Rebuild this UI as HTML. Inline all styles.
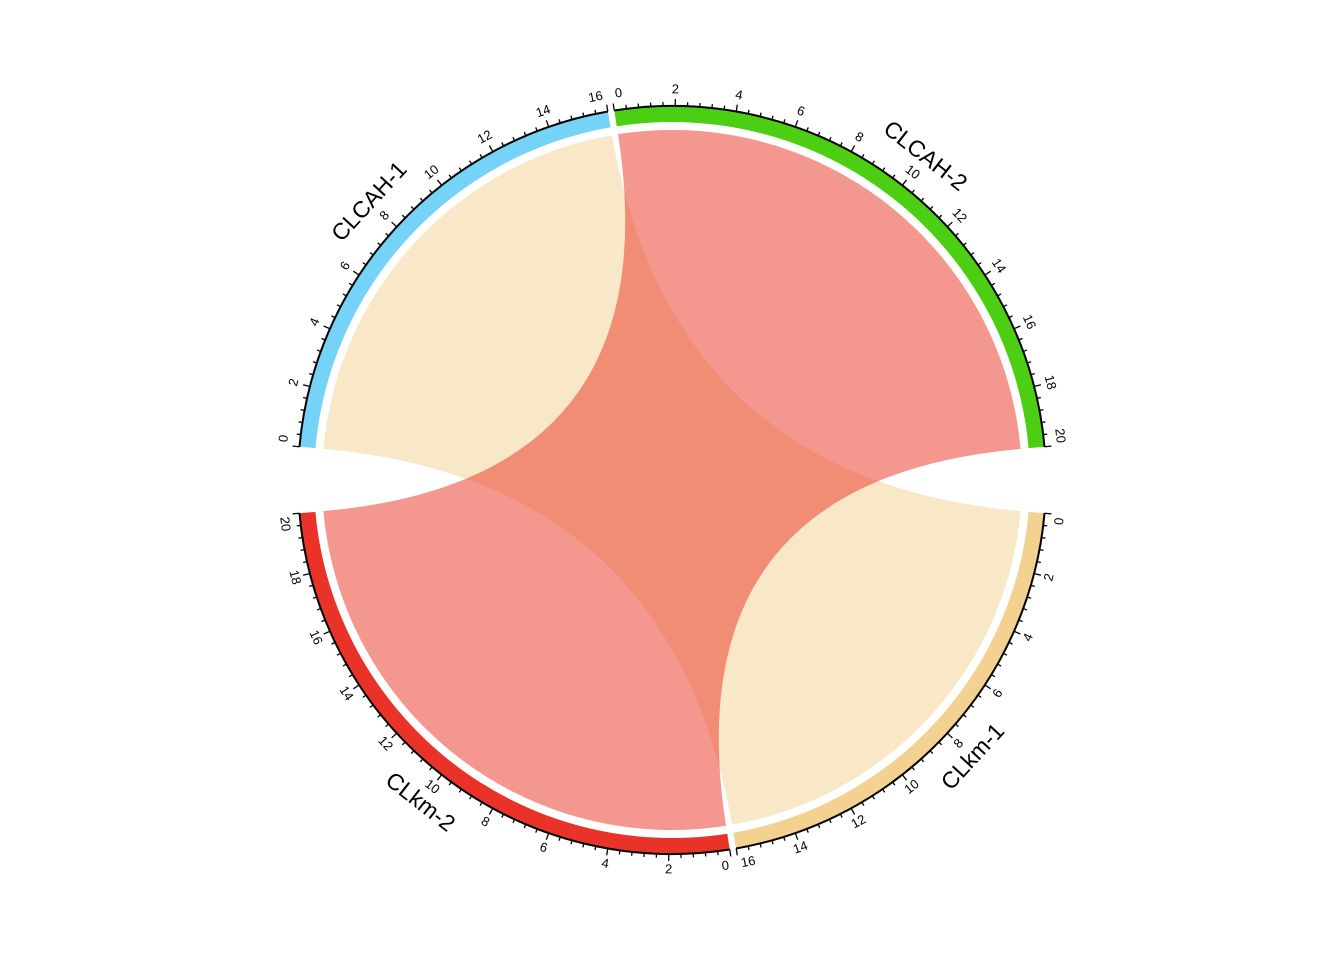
<!DOCTYPE html>
<html><head><meta charset="utf-8"><style>
html,body{margin:0;padding:0;background:#fff;}
svg{display:block;font-family:"Liberation Sans",Arial,sans-serif;}
</style></head><body>
<svg id="chart" width="1344" height="960" viewBox="0 0 1344 960" xmlns="http://www.w3.org/2000/svg">
<g id="chords"></g>
<g id="track"></g>
</svg>
<script>
const sectors = ["CLCAH-1","CLCAH-2","CLkm-1","CLkm-2"];
const sectorSizes = [16,20,16,20];
const sectorColors = ["#76D3F8","#4CCF12","#F2D191","#EA3328"];
const gapsAfter = [1,10.2,1,10.2];
const chordFrom = ["CLCAH-1","CLCAH-2"];
const chordTo = ["CLkm-1","CLkm-2"];
const chordValues = [16,20];
const chordColors = ["rgba(242,210,146,0.5)","rgba(234,55,40,0.52)"];

const NS="http://www.w3.org/2000/svg";
const cx=672, cy=480, rAxis=374, rIn=358, rChord=350;
const startDeg=174.9;
const totalUnits=sectorSizes.reduce((a,b)=>a+b,0);
const totalGap=gapsAfter.reduce((a,b)=>a+b,0);
const degPer=(360-totalGap)/totalUnits;
const starts=[]; let cur=startDeg;
sectors.forEach((s,i)=>{starts.push(cur); cur-=sectorSizes[i]*degPer+gapsAfter[i];});
function ang(si,v){return starts[si]-v*degPer;}
function pt(a,r){const t=a*Math.PI/180;return [cx+r*Math.cos(t),cy-r*Math.sin(t)];}
function arcPath(a1,a2,r){const p=pt(a2,r);const large=Math.abs(a1-a2)>180?1:0;return `A${r},${r} 0 ${large} 1 ${p[0]},${p[1]}`;}
function mk(tag,attrs,parent){const e=document.createElementNS(NS,tag);for(const k in attrs)e.setAttribute(k,attrs[k]);parent.appendChild(e);return e;}
function rot(a){let r=90-a;let n=((a%360)+360)%360;if(n>180)r+=180;return r;}

const track=document.getElementById('track');
sectors.forEach((s,i)=>{
  const a1=ang(i,0),a2=ang(i,sectorSizes[i]);
  const p1=pt(a1,rAxis),p2=pt(a2,rIn);
  const band=mk('path',{d:`M${p1[0]},${p1[1]} ${arcPath(a1,a2,rAxis)} L${p2[0]},${p2[1]} A${rIn},${rIn} 0 0 0 ${pt(a1,rIn)[0]},${pt(a1,rIn)[1]} Z`,fill:sectorColors[i]},track);
  
  
  const ax=mk('path',{d:`M${p1[0]},${p1[1]} ${arcPath(a1,a2,rAxis)}`,fill:'none',stroke:'#000','stroke-width':2},track);
  
  
  for(let k=0;k<=sectorSizes[i]*2.5;k++){
    const v=k*0.4, major=(k%5===0);
    const a=ang(i,v);
    const q1=pt(a,rAxis),q2=pt(a,rAxis+(major?7:4));
    const tk=mk('line',{x1:q1[0],y1:q1[1],x2:q2[0],y2:q2[1],stroke:'#000','stroke-width':1.3},track);
    
    
    if(major){
      const val=Math.round(v);
      let la=a;
      if(val===0) la=a-1.0;
      else if(val===sectorSizes[i]) la=a+(val>=10?1.4:1.0);
      const lp=pt(la,rAxis+16);
      const t=mk('text',{x:0,y:0,'font-size':13,'text-anchor':'middle','dominant-baseline':'middle',transform:`translate(${lp[0]},${lp[1]}) rotate(${rot(la)})`},track);
      t.textContent=String(val);
      
      
    }
  }
  const am=(a1+a2)/2, lp=pt(am,rAxis+36);
  const lab=mk('text',{x:0,y:0,'font-size':23,'text-anchor':'middle','dominant-baseline':'middle',transform:`translate(${lp[0]},${lp[1]}) rotate(${rot(am)})`},track);
  lab.textContent=s;
  
  
});

const chords=document.getElementById('chords');
chordFrom.forEach((f,i)=>{
  const si=sectors.indexOf(f), ti=sectors.indexOf(chordTo[i]);
  const A1=ang(si,0),A2=ang(si,chordValues[i]);
  const B1=ang(ti,0),B2=ang(ti,chordValues[i]);
  const pA1=pt(A1,rChord),pB1=pt(B1,rChord);
  const d=`M${pA1[0]},${pA1[1]} ${arcPath(A1,A2,rChord)} Q${cx},${cy} ${pB1[0]},${pB1[1]} ${arcPath(B1,B2,rChord)} Q${cx},${cy} ${pA1[0]},${pA1[1]} Z`;
  const c=mk('path',{d:d,fill:chordColors[i],stroke:'none'},chords);
  
  
});
</script>
</body></html>
